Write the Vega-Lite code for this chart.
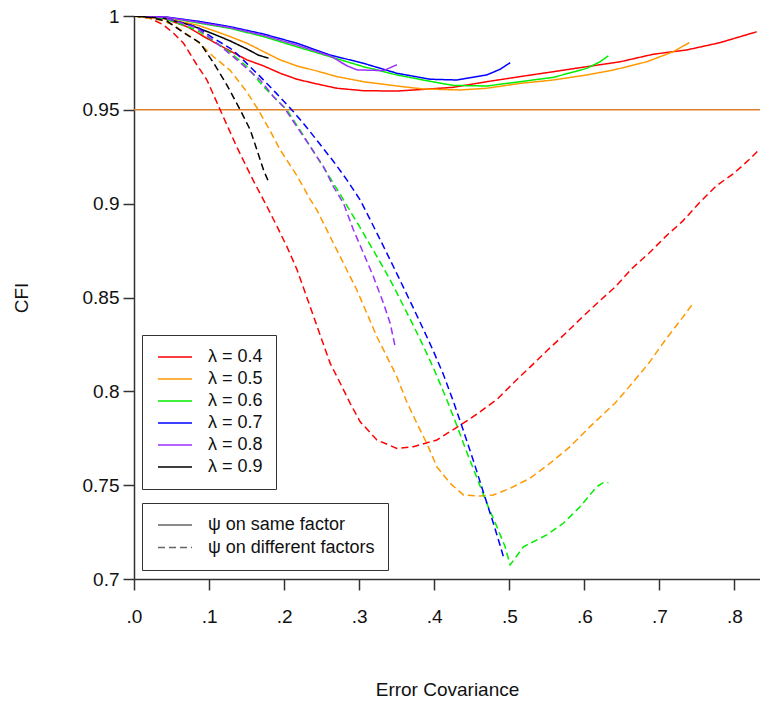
{
"$schema": "https://vega.github.io/schema/vega-lite/v6.json",
"width": 626, "height": 563,
"autosize": {"type": "none"},
"padding": {"left": 134, "top": 16, "right": 0, "bottom": 123},
"background": "white",
"config": {
 "view": {"stroke": null},
 "font": "Liberation Sans",
 "axis": {"grid": false, "domainColor": "#333", "domainWidth": 1.5, "tickColor": "#333", "tickWidth": 1.5, "tickSize": 11,
  "labelFont": "Liberation Sans", "labelFontSize": 19, "labelColor": "#111",
  "titleFont": "Liberation Sans", "titleFontSize": 19, "titleFontWeight": "normal", "titleColor": "#111"}
},
"layer": [
 {
  "data": {"values": [{"cfi": 0.95}]},
  "mark": {"type": "rule", "color": "#DE7F2B", "strokeWidth": 1.5},
  "encoding": {"y": {"field": "cfi", "type": "quantitative", "scale": {"domain": [0.7, 1]}, "title": "CFI"}}
 },
 {
  "data": {"values": [
{"l":"λ = 0.4","p":"ψ on same factor","x":0,"y":1},
{"l":"λ = 0.4","p":"ψ on same factor","x":0.0394,"y":0.9988},
{"l":"λ = 0.4","p":"ψ on same factor","x":0.0706,"y":0.9943},
{"l":"λ = 0.4","p":"ψ on same factor","x":0.0972,"y":0.9881},
{"l":"λ = 0.4","p":"ψ on same factor","x":0.1238,"y":0.9823},
{"l":"λ = 0.4","p":"ψ on same factor","x":0.1505,"y":0.9766},
{"l":"λ = 0.4","p":"ψ on same factor","x":0.1726,"y":0.9734},
{"l":"λ = 0.4","p":"ψ on same factor","x":0.1948,"y":0.9695},
{"l":"λ = 0.4","p":"ψ on same factor","x":0.217,"y":0.9663},
{"l":"λ = 0.4","p":"ψ on same factor","x":0.2437,"y":0.9638},
{"l":"λ = 0.4","p":"ψ on same factor","x":0.2703,"y":0.9615},
{"l":"λ = 0.4","p":"ψ on same factor","x":0.3057,"y":0.9602},
{"l":"λ = 0.4","p":"ψ on same factor","x":0.3502,"y":0.96},
{"l":"λ = 0.4","p":"ψ on same factor","x":0.3856,"y":0.9609},
{"l":"λ = 0.4","p":"ψ on same factor","x":0.4252,"y":0.962},
{"l":"λ = 0.4","p":"ψ on same factor","x":0.47,"y":0.965},
{"l":"λ = 0.4","p":"ψ on same factor","x":0.5144,"y":0.9677},
{"l":"λ = 0.4","p":"ψ on same factor","x":0.5583,"y":0.9703},
{"l":"λ = 0.4","p":"ψ on same factor","x":0.6032,"y":0.973},
{"l":"λ = 0.4","p":"ψ on same factor","x":0.6476,"y":0.9756},
{"l":"λ = 0.4","p":"ψ on same factor","x":0.6915,"y":0.9796},
{"l":"λ = 0.4","p":"ψ on same factor","x":0.7363,"y":0.9819},
{"l":"λ = 0.4","p":"ψ on same factor","x":0.7807,"y":0.9858},
{"l":"λ = 0.4","p":"ψ on same factor","x":0.8296,"y":0.9916},
{"l":"λ = 0.5","p":"ψ on same factor","x":0,"y":1},
{"l":"λ = 0.5","p":"ψ on same factor","x":0.0483,"y":0.9982},
{"l":"λ = 0.5","p":"ψ on same factor","x":0.0839,"y":0.9952},
{"l":"λ = 0.5","p":"ψ on same factor","x":0.1105,"y":0.9916},
{"l":"λ = 0.5","p":"ψ on same factor","x":0.1282,"y":0.989},
{"l":"λ = 0.5","p":"ψ on same factor","x":0.1505,"y":0.9855},
{"l":"λ = 0.5","p":"ψ on same factor","x":0.1726,"y":0.981},
{"l":"λ = 0.5","p":"ψ on same factor","x":0.1948,"y":0.9766},
{"l":"λ = 0.5","p":"ψ on same factor","x":0.217,"y":0.9734},
{"l":"λ = 0.5","p":"ψ on same factor","x":0.2437,"y":0.9707},
{"l":"λ = 0.5","p":"ψ on same factor","x":0.2703,"y":0.9677},
{"l":"λ = 0.5","p":"ψ on same factor","x":0.3057,"y":0.965},
{"l":"λ = 0.5","p":"ψ on same factor","x":0.3502,"y":0.9627},
{"l":"λ = 0.5","p":"ψ on same factor","x":0.3856,"y":0.9611},
{"l":"λ = 0.5","p":"ψ on same factor","x":0.4345,"y":0.9606},
{"l":"λ = 0.5","p":"ψ on same factor","x":0.47,"y":0.9615},
{"l":"λ = 0.5","p":"ψ on same factor","x":0.5144,"y":0.9641},
{"l":"λ = 0.5","p":"ψ on same factor","x":0.5587,"y":0.9659},
{"l":"λ = 0.5","p":"ψ on same factor","x":0.6032,"y":0.9686},
{"l":"λ = 0.5","p":"ψ on same factor","x":0.6386,"y":0.9712},
{"l":"λ = 0.5","p":"ψ on same factor","x":0.6831,"y":0.9756},
{"l":"λ = 0.5","p":"ψ on same factor","x":0.7185,"y":0.981},
{"l":"λ = 0.5","p":"ψ on same factor","x":0.7398,"y":0.9858},
{"l":"λ = 0.6","p":"ψ on same factor","x":0,"y":1},
{"l":"λ = 0.6","p":"ψ on same factor","x":0.0394,"y":0.9996},
{"l":"λ = 0.6","p":"ψ on same factor","x":0.0839,"y":0.9964},
{"l":"λ = 0.6","p":"ψ on same factor","x":0.1282,"y":0.9934},
{"l":"λ = 0.6","p":"ψ on same factor","x":0.1726,"y":0.989},
{"l":"λ = 0.6","p":"ψ on same factor","x":0.217,"y":0.9836},
{"l":"λ = 0.6","p":"ψ on same factor","x":0.2614,"y":0.9783},
{"l":"λ = 0.6","p":"ψ on same factor","x":0.3057,"y":0.973},
{"l":"λ = 0.6","p":"ψ on same factor","x":0.3502,"y":0.9686},
{"l":"λ = 0.6","p":"ψ on same factor","x":0.3945,"y":0.9652},
{"l":"λ = 0.6","p":"ψ on same factor","x":0.4256,"y":0.963},
{"l":"λ = 0.6","p":"ψ on same factor","x":0.47,"y":0.9627},
{"l":"λ = 0.6","p":"ψ on same factor","x":0.5144,"y":0.965},
{"l":"λ = 0.6","p":"ψ on same factor","x":0.5587,"y":0.9673},
{"l":"λ = 0.6","p":"ψ on same factor","x":0.6032,"y":0.9721},
{"l":"λ = 0.6","p":"ψ on same factor","x":0.6209,"y":0.9756},
{"l":"λ = 0.6","p":"ψ on same factor","x":0.632,"y":0.9788},
{"l":"λ = 0.7","p":"ψ on same factor","x":0,"y":1},
{"l":"λ = 0.7","p":"ψ on same factor","x":0.0394,"y":0.9996},
{"l":"λ = 0.7","p":"ψ on same factor","x":0.0839,"y":0.9973},
{"l":"λ = 0.7","p":"ψ on same factor","x":0.1282,"y":0.9943},
{"l":"λ = 0.7","p":"ψ on same factor","x":0.1726,"y":0.9904},
{"l":"λ = 0.7","p":"ψ on same factor","x":0.217,"y":0.9855},
{"l":"λ = 0.7","p":"ψ on same factor","x":0.2614,"y":0.9792},
{"l":"λ = 0.7","p":"ψ on same factor","x":0.3057,"y":0.9748},
{"l":"λ = 0.7","p":"ψ on same factor","x":0.3502,"y":0.9695},
{"l":"λ = 0.7","p":"ψ on same factor","x":0.3945,"y":0.9663},
{"l":"λ = 0.7","p":"ψ on same factor","x":0.4301,"y":0.9659},
{"l":"λ = 0.7","p":"ψ on same factor","x":0.47,"y":0.9686},
{"l":"λ = 0.7","p":"ψ on same factor","x":0.4877,"y":0.9716},
{"l":"λ = 0.7","p":"ψ on same factor","x":0.5011,"y":0.9751},
{"l":"λ = 0.8","p":"ψ on same factor","x":0,"y":1},
{"l":"λ = 0.8","p":"ψ on same factor","x":0.0394,"y":0.9996},
{"l":"λ = 0.8","p":"ψ on same factor","x":0.0839,"y":0.9968},
{"l":"λ = 0.8","p":"ψ on same factor","x":0.1282,"y":0.9938},
{"l":"λ = 0.8","p":"ψ on same factor","x":0.1726,"y":0.9897},
{"l":"λ = 0.8","p":"ψ on same factor","x":0.217,"y":0.9845},
{"l":"λ = 0.8","p":"ψ on same factor","x":0.2614,"y":0.9787},
{"l":"λ = 0.8","p":"ψ on same factor","x":0.2836,"y":0.9735},
{"l":"λ = 0.8","p":"ψ on same factor","x":0.2969,"y":0.9713},
{"l":"λ = 0.8","p":"ψ on same factor","x":0.3324,"y":0.9709},
{"l":"λ = 0.8","p":"ψ on same factor","x":0.3502,"y":0.974},
{"l":"λ = 0.9","p":"ψ on same factor","x":0,"y":1},
{"l":"λ = 0.9","p":"ψ on same factor","x":0.0394,"y":0.9988},
{"l":"λ = 0.9","p":"ψ on same factor","x":0.075,"y":0.9952},
{"l":"λ = 0.9","p":"ψ on same factor","x":0.106,"y":0.9904},
{"l":"λ = 0.9","p":"ψ on same factor","x":0.1282,"y":0.9867},
{"l":"λ = 0.9","p":"ψ on same factor","x":0.1505,"y":0.9824},
{"l":"λ = 0.9","p":"ψ on same factor","x":0.1655,"y":0.9792},
{"l":"λ = 0.9","p":"ψ on same factor","x":0.1792,"y":0.9775},
{"l":"λ = 0.4","p":"ψ on different factors","x":0,"y":1},
{"l":"λ = 0.4","p":"ψ on different factors","x":0.0217,"y":0.9988},
{"l":"λ = 0.4","p":"ψ on different factors","x":0.0394,"y":0.9952},
{"l":"λ = 0.4","p":"ψ on different factors","x":0.0527,"y":0.9908},
{"l":"λ = 0.4","p":"ψ on different factors","x":0.066,"y":0.9855},
{"l":"λ = 0.4","p":"ψ on different factors","x":0.0839,"y":0.9739},
{"l":"λ = 0.4","p":"ψ on different factors","x":0.0972,"y":0.9659},
{"l":"λ = 0.4","p":"ψ on different factors","x":0.1149,"y":0.9499},
{"l":"λ = 0.4","p":"ψ on different factors","x":0.1372,"y":0.93},
{"l":"λ = 0.4","p":"ψ on different factors","x":0.1593,"y":0.912},
{"l":"λ = 0.4","p":"ψ on different factors","x":0.1771,"y":0.8985},
{"l":"λ = 0.4","p":"ψ on different factors","x":0.1904,"y":0.888},
{"l":"λ = 0.4","p":"ψ on different factors","x":0.2037,"y":0.8771},
{"l":"λ = 0.4","p":"ψ on different factors","x":0.217,"y":0.865},
{"l":"λ = 0.4","p":"ψ on different factors","x":0.2281,"y":0.8525},
{"l":"λ = 0.4","p":"ψ on different factors","x":0.2392,"y":0.84},
{"l":"λ = 0.4","p":"ψ on different factors","x":0.2503,"y":0.8274},
{"l":"λ = 0.4","p":"ψ on different factors","x":0.2614,"y":0.8149},
{"l":"λ = 0.4","p":"ψ on different factors","x":0.2748,"y":0.8043},
{"l":"λ = 0.4","p":"ψ on different factors","x":0.288,"y":0.7936},
{"l":"λ = 0.4","p":"ψ on different factors","x":0.3013,"y":0.7838},
{"l":"λ = 0.4","p":"ψ on different factors","x":0.3236,"y":0.7741},
{"l":"λ = 0.4","p":"ψ on different factors","x":0.3502,"y":0.7696},
{"l":"λ = 0.4","p":"ψ on different factors","x":0.3723,"y":0.7705},
{"l":"λ = 0.4","p":"ψ on different factors","x":0.4035,"y":0.7741},
{"l":"λ = 0.4","p":"ψ on different factors","x":0.4301,"y":0.7808},
{"l":"λ = 0.4","p":"ψ on different factors","x":0.4567,"y":0.7878},
{"l":"λ = 0.4","p":"ψ on different factors","x":0.4836,"y":0.7957},
{"l":"λ = 0.4","p":"ψ on different factors","x":0.5061,"y":0.8047},
{"l":"λ = 0.4","p":"ψ on different factors","x":0.5286,"y":0.8133},
{"l":"λ = 0.4","p":"ψ on different factors","x":0.5511,"y":0.822},
{"l":"λ = 0.4","p":"ψ on different factors","x":0.5736,"y":0.8304},
{"l":"λ = 0.4","p":"ψ on different factors","x":0.5961,"y":0.8391},
{"l":"λ = 0.4","p":"ψ on different factors","x":0.6185,"y":0.8475},
{"l":"λ = 0.4","p":"ψ on different factors","x":0.641,"y":0.8556},
{"l":"λ = 0.4","p":"ψ on different factors","x":0.6635,"y":0.8655},
{"l":"λ = 0.4","p":"ψ on different factors","x":0.686,"y":0.8736},
{"l":"λ = 0.4","p":"ψ on different factors","x":0.7085,"y":0.8826},
{"l":"λ = 0.4","p":"ψ on different factors","x":0.731,"y":0.8907},
{"l":"λ = 0.4","p":"ψ on different factors","x":0.7535,"y":0.9006},
{"l":"λ = 0.4","p":"ψ on different factors","x":0.776,"y":0.9096},
{"l":"λ = 0.4","p":"ψ on different factors","x":0.7985,"y":0.9159},
{"l":"λ = 0.4","p":"ψ on different factors","x":0.821,"y":0.924},
{"l":"λ = 0.4","p":"ψ on different factors","x":0.8322,"y":0.9286},
{"l":"λ = 0.5","p":"ψ on different factors","x":0,"y":1},
{"l":"λ = 0.5","p":"ψ on different factors","x":0.035,"y":0.9979},
{"l":"λ = 0.5","p":"ψ on different factors","x":0.0527,"y":0.9952},
{"l":"λ = 0.5","p":"ψ on different factors","x":0.0839,"y":0.9867},
{"l":"λ = 0.5","p":"ψ on different factors","x":0.106,"y":0.9783},
{"l":"λ = 0.5","p":"ψ on different factors","x":0.1282,"y":0.971},
{"l":"λ = 0.5","p":"ψ on different factors","x":0.1505,"y":0.9595},
{"l":"λ = 0.5","p":"ψ on different factors","x":0.1655,"y":0.95},
{"l":"λ = 0.5","p":"ψ on different factors","x":0.1815,"y":0.9388},
{"l":"λ = 0.5","p":"ψ on different factors","x":0.1948,"y":0.9286},
{"l":"λ = 0.5","p":"ψ on different factors","x":0.217,"y":0.915},
{"l":"λ = 0.5","p":"ψ on different factors","x":0.2347,"y":0.9023},
{"l":"λ = 0.5","p":"ψ on different factors","x":0.2437,"y":0.8966},
{"l":"λ = 0.5","p":"ψ on different factors","x":0.2614,"y":0.8824},
{"l":"λ = 0.5","p":"ψ on different factors","x":0.2791,"y":0.8682},
{"l":"λ = 0.5","p":"ψ on different factors","x":0.2969,"y":0.854},
{"l":"λ = 0.5","p":"ψ on different factors","x":0.3102,"y":0.8416},
{"l":"λ = 0.5","p":"ψ on different factors","x":0.3236,"y":0.8291},
{"l":"λ = 0.5","p":"ψ on different factors","x":0.3369,"y":0.8185},
{"l":"λ = 0.5","p":"ψ on different factors","x":0.3502,"y":0.8078},
{"l":"λ = 0.5","p":"ψ on different factors","x":0.3635,"y":0.7943},
{"l":"λ = 0.5","p":"ψ on different factors","x":0.379,"y":0.7812},
{"l":"λ = 0.5","p":"ψ on different factors","x":0.3901,"y":0.7723},
{"l":"λ = 0.5","p":"ψ on different factors","x":0.4035,"y":0.7598},
{"l":"λ = 0.5","p":"ψ on different factors","x":0.4212,"y":0.751},
{"l":"λ = 0.5","p":"ψ on different factors","x":0.4389,"y":0.7448},
{"l":"λ = 0.5","p":"ψ on different factors","x":0.4611,"y":0.7442},
{"l":"λ = 0.5","p":"ψ on different factors","x":0.4788,"y":0.7448},
{"l":"λ = 0.5","p":"ψ on different factors","x":0.5011,"y":0.7483},
{"l":"λ = 0.5","p":"ψ on different factors","x":0.5277,"y":0.7537},
{"l":"λ = 0.5","p":"ψ on different factors","x":0.5543,"y":0.7617},
{"l":"λ = 0.5","p":"ψ on different factors","x":0.5809,"y":0.7705},
{"l":"λ = 0.5","p":"ψ on different factors","x":0.6076,"y":0.7812},
{"l":"λ = 0.5","p":"ψ on different factors","x":0.641,"y":0.7938},
{"l":"λ = 0.5","p":"ψ on different factors","x":0.6635,"y":0.8042},
{"l":"λ = 0.5","p":"ψ on different factors","x":0.686,"y":0.8151},
{"l":"λ = 0.5","p":"ψ on different factors","x":0.7085,"y":0.8277},
{"l":"λ = 0.5","p":"ψ on different factors","x":0.731,"y":0.8394},
{"l":"λ = 0.5","p":"ψ on different factors","x":0.7437,"y":0.8463},
{"l":"λ = 0.6","p":"ψ on different factors","x":0,"y":1},
{"l":"λ = 0.6","p":"ψ on different factors","x":0.0394,"y":0.9988},
{"l":"λ = 0.6","p":"ψ on different factors","x":0.0839,"y":0.9925},
{"l":"λ = 0.6","p":"ψ on different factors","x":0.106,"y":0.9867},
{"l":"λ = 0.6","p":"ψ on different factors","x":0.1282,"y":0.9806},
{"l":"λ = 0.6","p":"ψ on different factors","x":0.1505,"y":0.973},
{"l":"λ = 0.6","p":"ψ on different factors","x":0.1726,"y":0.9623},
{"l":"λ = 0.6","p":"ψ on different factors","x":0.1904,"y":0.9552},
{"l":"λ = 0.6","p":"ψ on different factors","x":0.2037,"y":0.9499},
{"l":"λ = 0.6","p":"ψ on different factors","x":0.2214,"y":0.9391},
{"l":"λ = 0.6","p":"ψ on different factors","x":0.2391,"y":0.9278},
{"l":"λ = 0.6","p":"ψ on different factors","x":0.257,"y":0.9165},
{"l":"λ = 0.6","p":"ψ on different factors","x":0.2747,"y":0.905},
{"l":"λ = 0.6","p":"ψ on different factors","x":0.2836,"y":0.899},
{"l":"λ = 0.6","p":"ψ on different factors","x":0.3013,"y":0.8872},
{"l":"λ = 0.6","p":"ψ on different factors","x":0.3146,"y":0.878},
{"l":"λ = 0.6","p":"ψ on different factors","x":0.3324,"y":0.8658},
{"l":"λ = 0.6","p":"ψ on different factors","x":0.3457,"y":0.856},
{"l":"λ = 0.6","p":"ψ on different factors","x":0.359,"y":0.8455},
{"l":"λ = 0.6","p":"ψ on different factors","x":0.3723,"y":0.835},
{"l":"λ = 0.6","p":"ψ on different factors","x":0.3856,"y":0.824},
{"l":"λ = 0.6","p":"ψ on different factors","x":0.3989,"y":0.8125},
{"l":"λ = 0.6","p":"ψ on different factors","x":0.4168,"y":0.7955},
{"l":"λ = 0.6","p":"ψ on different factors","x":0.4301,"y":0.7818},
{"l":"λ = 0.6","p":"ψ on different factors","x":0.4434,"y":0.7675},
{"l":"λ = 0.6","p":"ψ on different factors","x":0.4567,"y":0.754},
{"l":"λ = 0.6","p":"ψ on different factors","x":0.47,"y":0.7403},
{"l":"λ = 0.6","p":"ψ on different factors","x":0.4834,"y":0.7279},
{"l":"λ = 0.6","p":"ψ on different factors","x":0.4944,"y":0.7172},
{"l":"λ = 0.6","p":"ψ on different factors","x":0.5011,"y":0.7075},
{"l":"λ = 0.6","p":"ψ on different factors","x":0.5188,"y":0.7172},
{"l":"λ = 0.6","p":"ψ on different factors","x":0.5277,"y":0.719},
{"l":"λ = 0.6","p":"ψ on different factors","x":0.5499,"y":0.7235},
{"l":"λ = 0.6","p":"ψ on different factors","x":0.572,"y":0.7297},
{"l":"λ = 0.6","p":"ψ on different factors","x":0.5943,"y":0.7385},
{"l":"λ = 0.6","p":"ψ on different factors","x":0.6165,"y":0.7492},
{"l":"λ = 0.6","p":"ψ on different factors","x":0.6253,"y":0.7513},
{"l":"λ = 0.6","p":"ψ on different factors","x":0.632,"y":0.7513},
{"l":"λ = 0.7","p":"ψ on different factors","x":0,"y":1},
{"l":"λ = 0.7","p":"ψ on different factors","x":0.0394,"y":0.9992},
{"l":"λ = 0.7","p":"ψ on different factors","x":0.0839,"y":0.9941},
{"l":"λ = 0.7","p":"ψ on different factors","x":0.106,"y":0.9881},
{"l":"λ = 0.7","p":"ψ on different factors","x":0.1282,"y":0.9828},
{"l":"λ = 0.7","p":"ψ on different factors","x":0.1372,"y":0.9798},
{"l":"λ = 0.7","p":"ψ on different factors","x":0.1682,"y":0.9677},
{"l":"λ = 0.7","p":"ψ on different factors","x":0.1904,"y":0.9585},
{"l":"λ = 0.7","p":"ψ on different factors","x":0.2125,"y":0.949},
{"l":"λ = 0.7","p":"ψ on different factors","x":0.2304,"y":0.9405},
{"l":"λ = 0.7","p":"ψ on different factors","x":0.2481,"y":0.9315},
{"l":"λ = 0.7","p":"ψ on different factors","x":0.2658,"y":0.9225},
{"l":"λ = 0.7","p":"ψ on different factors","x":0.2836,"y":0.9127},
{"l":"λ = 0.7","p":"ψ on different factors","x":0.3013,"y":0.902},
{"l":"λ = 0.7","p":"ψ on different factors","x":0.3146,"y":0.8915},
{"l":"λ = 0.7","p":"ψ on different factors","x":0.328,"y":0.8808},
{"l":"λ = 0.7","p":"ψ on different factors","x":0.3457,"y":0.8664},
{"l":"λ = 0.7","p":"ψ on different factors","x":0.359,"y":0.8554},
{"l":"λ = 0.7","p":"ψ on different factors","x":0.3723,"y":0.8443},
{"l":"λ = 0.7","p":"ψ on different factors","x":0.3856,"y":0.833},
{"l":"λ = 0.7","p":"ψ on different factors","x":0.3989,"y":0.8214},
{"l":"λ = 0.7","p":"ψ on different factors","x":0.4122,"y":0.809},
{"l":"λ = 0.7","p":"ψ on different factors","x":0.4256,"y":0.7945},
{"l":"λ = 0.7","p":"ψ on different factors","x":0.4389,"y":0.779},
{"l":"λ = 0.7","p":"ψ on different factors","x":0.4522,"y":0.763},
{"l":"λ = 0.7","p":"ψ on different factors","x":0.4655,"y":0.7462},
{"l":"λ = 0.7","p":"ψ on different factors","x":0.4788,"y":0.7297},
{"l":"λ = 0.7","p":"ψ on different factors","x":0.4877,"y":0.718},
{"l":"λ = 0.7","p":"ψ on different factors","x":0.4921,"y":0.7119},
{"l":"λ = 0.7","p":"ψ on different factors","x":0.4967,"y":0.7119},
{"l":"λ = 0.8","p":"ψ on different factors","x":0,"y":1},
{"l":"λ = 0.8","p":"ψ on different factors","x":0.0394,"y":0.9992},
{"l":"λ = 0.8","p":"ψ on different factors","x":0.0839,"y":0.9936},
{"l":"λ = 0.8","p":"ψ on different factors","x":0.1105,"y":0.9855},
{"l":"λ = 0.8","p":"ψ on different factors","x":0.1372,"y":0.9766},
{"l":"λ = 0.8","p":"ψ on different factors","x":0.1682,"y":0.9659},
{"l":"λ = 0.8","p":"ψ on different factors","x":0.1859,"y":0.957},
{"l":"λ = 0.8","p":"ψ on different factors","x":0.1992,"y":0.9517},
{"l":"λ = 0.8","p":"ψ on different factors","x":0.217,"y":0.941},
{"l":"λ = 0.8","p":"ψ on different factors","x":0.2348,"y":0.9304},
{"l":"λ = 0.8","p":"ψ on different factors","x":0.2525,"y":0.9197},
{"l":"λ = 0.8","p":"ψ on different factors","x":0.2658,"y":0.909},
{"l":"λ = 0.8","p":"ψ on different factors","x":0.2791,"y":0.9002},
{"l":"λ = 0.8","p":"ψ on different factors","x":0.2924,"y":0.886},
{"l":"λ = 0.8","p":"ψ on different factors","x":0.3057,"y":0.8736},
{"l":"λ = 0.8","p":"ψ on different factors","x":0.319,"y":0.8611},
{"l":"λ = 0.8","p":"ψ on different factors","x":0.3324,"y":0.8469},
{"l":"λ = 0.8","p":"ψ on different factors","x":0.3413,"y":0.8363},
{"l":"λ = 0.8","p":"ψ on different factors","x":0.3479,"y":0.8238},
{"l":"λ = 0.9","p":"ψ on different factors","x":0,"y":1},
{"l":"λ = 0.9","p":"ψ on different factors","x":0.0217,"y":0.9992},
{"l":"λ = 0.9","p":"ψ on different factors","x":0.0439,"y":0.9973},
{"l":"λ = 0.9","p":"ψ on different factors","x":0.066,"y":0.9912},
{"l":"λ = 0.9","p":"ψ on different factors","x":0.0883,"y":0.9855},
{"l":"λ = 0.9","p":"ψ on different factors","x":0.106,"y":0.975},
{"l":"λ = 0.9","p":"ψ on different factors","x":0.1238,"y":0.9632},
{"l":"λ = 0.9","p":"ψ on different factors","x":0.1416,"y":0.9499},
{"l":"λ = 0.9","p":"ψ on different factors","x":0.1549,"y":0.9393},
{"l":"λ = 0.9","p":"ψ on different factors","x":0.1638,"y":0.9286},
{"l":"λ = 0.9","p":"ψ on different factors","x":0.1726,"y":0.9179},
{"l":"λ = 0.9","p":"ψ on different factors","x":0.1792,"y":0.9117}
  ]},
  "mark": {"type": "line", "strokeWidth": 1.5, "clip": true},
  "encoding": {
   "x": {"field": "x", "type": "quantitative", "scale": {"domain": [0, 0.834], "nice": false},
    "axis": {"title": "Error Covariance", "values": [0, 0.1, 0.2, 0.3, 0.4, 0.5, 0.6, 0.7, 0.8],
     "labelExpr": "replace(format(datum.value, '.1f'), '0.', '.')", "labelPadding": 17, "titlePadding": 54, "labelFlush": false}},
   "y": {"field": "y", "type": "quantitative", "scale": {"domain": [0.7, 1], "nice": false},
    "axis": {"title": "CFI", "values": [0.7, 0.75, 0.8, 0.85, 0.9, 0.95, 1], "format": "~g", "labelPadding": 4, "titlePadding": 51, "labelFlush": false}},
   "color": {"field": "l", "type": "nominal",
    "scale": {"domain": ["λ = 0.4", "λ = 0.5", "λ = 0.6", "λ = 0.7", "λ = 0.8", "λ = 0.9"],
     "range": ["#FF0000", "#FF9900", "#00EE00", "#0000FF", "#9B30FF", "#000000"]},
    "legend": {"title": null, "orient": "none", "legendX": 8, "legendY": 319, "fillColor": "white", "strokeColor": "#333",
     "padding": 13, "clipHeight": 18, "rowPadding": 4, "symbolType": "stroke", "symbolSize": 1156, "symbolStrokeWidth": 1.5,
     "symbolDash": [1, 0], "symbolOffset": 2, "labelOffset": 15, "labelLimit": 300, "labelFont": "Liberation Sans", "labelFontSize": 18, "labelColor": "#111"}},
   "strokeDash": {"field": "p", "type": "nominal",
    "scale": {"domain": ["ψ on same factor", "ψ on different factors"], "range": [[1, 0], [7, 4]]},
    "legend": {"title": null, "orient": "none", "legendX": 8, "legendY": 487, "fillColor": "white", "strokeColor": "#333",
     "padding": 13, "clipHeight": 18, "rowPadding": 4.6, "symbolType": "stroke", "symbolSize": 1156, "symbolStrokeWidth": 1.5,
     "symbolStrokeColor": "#666", "symbolOffset": 2, "labelOffset": 15, "labelLimit": 300, "labelFont": "Liberation Sans", "labelFontSize": 18, "labelColor": "#111"}}
  }
 }
]
}
